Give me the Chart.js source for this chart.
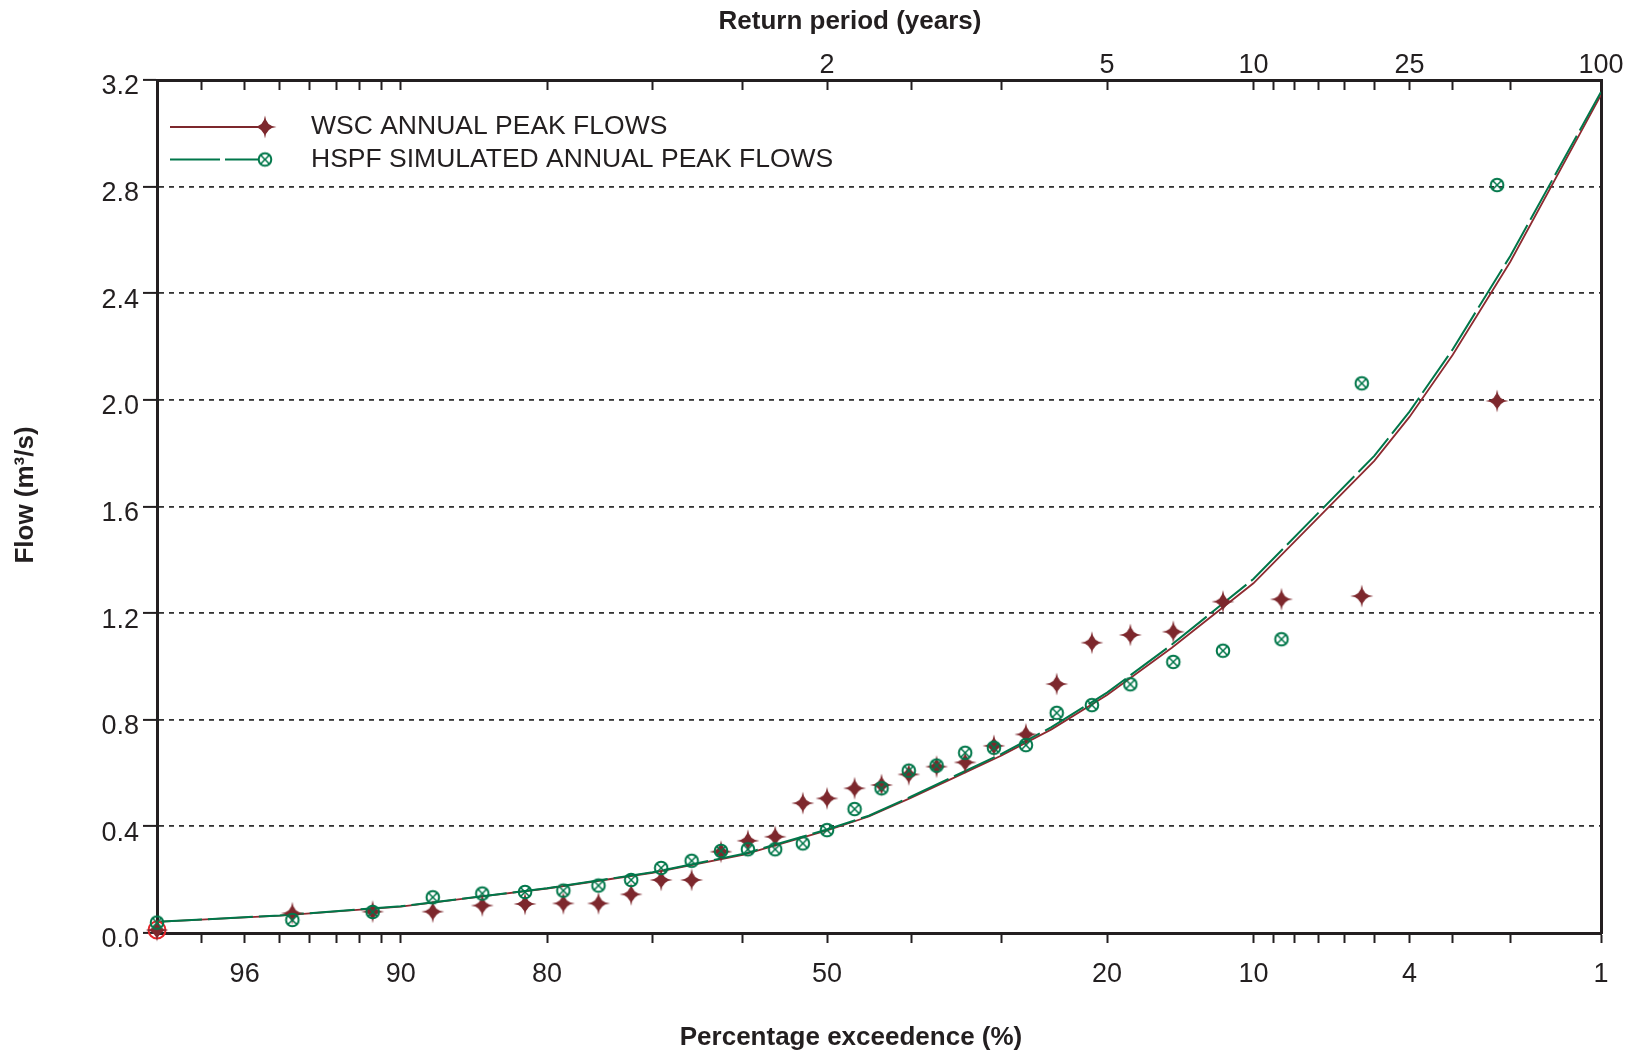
<!DOCTYPE html>
<html>
<head>
<meta charset="utf-8">
<title>Annual peak flow frequency</title>
<script src="https://cdn.jsdelivr.net/npm/chart.js@4.4.0/dist/chart.umd.min.js"></script>
<style>
  html, body { margin: 0; padding: 0; background: #fff; }
  #wrap { width: 1633px; height: 1056px; }
</style>
</head>
<body>
<div id="wrap"><canvas id="freqChart" width="1633" height="1056"></canvas></div>
<script>
// ---- data ----
// plotting position of each ranked annual peak, percentage exceedence
const exceedPct = [97.8, 94.6, 91.4, 88.2, 85.0, 81.8, 78.6, 75.4, 72.2, 69.1, 65.8,
                   62.5, 59.4, 56.2, 52.9, 50.0, 46.7, 43.5, 40.3, 37.1, 33.9, 30.8,
                   27.5, 24.5, 21.3, 18.1, 14.9, 11.7, 8.6, 5.4, 2.2];
// WSC observed annual peaks (m3/s)
const wscFlow = [0.011, 0.074, 0.080, 0.080, 0.103, 0.109, 0.111, 0.111, 0.145, 0.199, 0.199,
                 0.305, 0.346, 0.361, 0.487, 0.505, 0.543, 0.555, 0.595, 0.624, 0.640, 0.702,
                 0.745, 0.934, 1.089, 1.118, 1.130, 1.243, 1.252, 1.264, 1.996];
// HSPF simulated annual peaks (m3/s)
const hspfFlow = [0.039, 0.049, 0.079, 0.134, 0.148, 0.154, 0.159, 0.178, 0.199, 0.244, 0.271,
                  0.308, 0.314, 0.314, 0.336, 0.386, 0.465, 0.543, 0.609, 0.628, 0.676, 0.695,
                  0.705, 0.826, 0.855, 0.933, 1.017, 1.059, 1.102, 2.062, 2.806];

// fitted frequency curves
const curvePct = [97.8, 95, 90, 85, 80, 70, 60, 50, 45, 40, 35, 30, 25, 20, 15, 10, 5, 4, 3, 2, 1];
const wscFit  = [0.042, 0.065, 0.099, 0.137, 0.167, 0.226, 0.293, 0.385, 0.437, 0.508, 0.585,
                 0.666, 0.764, 0.893, 1.070, 1.312, 1.771, 1.936, 2.169, 2.518, 3.144];
const hspfFit = [0.042, 0.066, 0.100, 0.138, 0.168, 0.228, 0.296, 0.388, 0.440, 0.512, 0.590,
                 0.672, 0.772, 0.902, 1.082, 1.328, 1.790, 1.956, 2.190, 2.540, 3.155];

// axes
const axisLeftPct = 97.8;
const axisRightPct = 1;
const exceedTicks = [97, 96, 95, 94, 93, 92, 91, 90, 80, 70, 60, 50, 40, 30, 20, 10, 9, 8, 7, 6, 5, 4, 3, 2, 1];
const exceedLabelled = [96, 90, 80, 50, 20, 10, 4, 1];
const returnTickPcts = [50, 20, 10, 4, 1];
const returnTickLabels = ['2', '5', '10', '25', '100'];
const flowTicks = [0, 0.4, 0.8, 1.2, 1.6, 2.0, 2.4, 2.8, 3.2];

const legendLabels = ['WSC ANNUAL PEAK FLOWS', 'HSPF SIMULATED ANNUAL PEAK FLOWS'];

// ---- look ----
const INK = '#231f20';
const RED = '#7d282d';
const GREEN = '#00774a';
const FONT = "'Liberation Sans', Arial, sans-serif";

// inverse of the standard normal CDF (Acklam), used to build the probability axis
function normInv(p) {
    const a = [-3.969683028665376e+01, 2.209460984245205e+02, -2.759285104469687e+02,
               1.383577518672690e+02, -3.066479806614716e+01, 2.506628277459239e+00];
    const b = [-5.447609879822406e+01, 1.615858368580409e+02, -1.556989798598866e+02,
               6.680131188771972e+01, -1.328068155288572e+01];
    const c = [-7.784894002430293e-03, -3.223964580411365e-01, -2.400758277161838e+00,
               -2.549732539343734e+00, 4.374664141464968e+00, 2.938163982698783e+00];
    const d = [7.784695709041462e-03, 3.224671290700398e-01, 2.445134137142996e+00,
               3.754408661907416e+00];
    const pl = 0.02425;
    let q, r;
    if (p < pl) {
        q = Math.sqrt(-2 * Math.log(p));
        return (((((c[0]*q + c[1])*q + c[2])*q + c[3])*q + c[4])*q + c[5]) /
               ((((d[0]*q + d[1])*q + d[2])*q + d[3])*q + 1);
    }
    if (p > 1 - pl) {
        q = Math.sqrt(-2 * Math.log(1 - p));
        return -(((((c[0]*q + c[1])*q + c[2])*q + c[3])*q + c[4])*q + c[5]) /
                ((((d[0]*q + d[1])*q + d[2])*q + d[3])*q + 1);
    }
    q = p - 0.5;
    r = q * q;
    return (((((a[0]*r + a[1])*r + a[2])*r + a[3])*r + a[4])*r + a[5]) * q /
           (((((b[0]*r + b[1])*r + b[2])*r + b[3])*r + b[4])*r + 1);
}

// percentage exceedence -> normal variate (rare floods to the right)
const zOf = pct => normInv(1 - pct / 100);

const toPoints = (pcts, vals) => pcts.map((p, i) => ({ x: zOf(p), y: vals[i] }));

// marker images
function makeStar(color) {
    const s = 26, m = s / 2, R = 11.5, bulge = 1.4;
    const cv = document.createElement('canvas');
    cv.width = cv.height = s;
    const g = cv.getContext('2d');
    g.fillStyle = color;
    g.beginPath();
    for (let k = 0; k < 4; k++) {
        const a = k * Math.PI / 2 - Math.PI / 2;
        const a1 = a + Math.PI / 2;
        const am = a + Math.PI / 4;
        if (k === 0) g.moveTo(m + R * Math.cos(a), m + R * Math.sin(a));
        g.quadraticCurveTo(m + bulge * Math.cos(am), m + bulge * Math.sin(am),
                           m + R * Math.cos(a1), m + R * Math.sin(a1));
    }
    g.closePath();
    g.fill();
    return cv;
}

function makeCircleX(color) {
    const s = 18, m = s / 2, rad = 6.3;
    const cv = document.createElement('canvas');
    cv.width = cv.height = s;
    const g = cv.getContext('2d');
    g.strokeStyle = color;
    g.lineWidth = 2;
    g.beginPath();
    g.arc(m, m, rad, 0, Math.PI * 2);
    g.stroke();
    const d = rad * 0.7071;
    g.lineWidth = 1.5;
    g.beginPath();
    g.moveTo(m - d, m - d); g.lineTo(m + d, m + d);
    g.moveTo(m + d, m - d); g.lineTo(m - d, m + d);
    g.stroke();
    return cv;
}

const starImg = makeStar(RED);
const circImg = makeCircleX(GREEN);

// legend drawn by hand: line sample + marker + text
const legendPlugin = {
    id: 'lineMarkerLegend',
    afterDraw(chart) {
        const g = chart.ctx;
        const rows = [
            { y: 127, color: RED, dash: [], img: starImg },
            { y: 159.5, color: GREEN, dash: [50, 5], img: circImg }
        ];
        g.save();
        rows.forEach((row, i) => {
            g.strokeStyle = row.color;
            g.lineWidth = 2;
            g.setLineDash(row.dash);
            g.beginPath();
            g.moveTo(170, row.y);
            g.lineTo(258, row.y);
            g.stroke();
            g.drawImage(row.img, 265 - row.img.width / 2, row.y - row.img.height / 2);
            g.fillStyle = INK;
            g.font = `26.5px ${FONT}`;
            g.textAlign = 'left';
            g.textBaseline = 'middle';
            g.fillText(legendLabels[i], 311, row.y);
        });
        g.restore();
    }
};

// axis titles sit off-centre in the original, so place them directly
const titlePlugin = {
    id: 'axisTitles',
    afterDraw(chart) {
        const g = chart.ctx;
        g.save();
        g.fillStyle = INK;
        g.font = `bold 26px ${FONT}`;
        g.textAlign = 'center';
        g.textBaseline = 'middle';
        g.fillText('Return period (years)', 850, 22);
        g.fillText('Percentage exceedence (%)', 851, 1038);
        g.translate(26, 495);
        g.rotate(-Math.PI / 2);
        g.fillText('Flow (m\u00b3/s)', 0, 0);
        g.restore();
    }
};

Chart.defaults.font.family = FONT;
Chart.defaults.color = INK;

const ctx = document.getElementById('freqChart').getContext('2d');
new Chart(ctx, {
    type: 'scatter',
    data: {
        datasets: [
            {
                label: 'HSPF SIMULATED ANNUAL PEAK FLOWS',
                data: toPoints(exceedPct, hspfFlow),
                pointStyle: circImg,
                pointRadius: 7,
                clip: false,
                order: 0
            },
            {
                label: 'WSC ANNUAL PEAK FLOWS',
                data: toPoints(exceedPct, wscFlow),
                pointStyle: starImg,
                pointRadius: 7,
                clip: false,
                order: 1
            },
            {
                // the lowest WSC peak is ringed in red in the original
                label: 'lowest peak',
                data: toPoints(exceedPct.slice(0, 1), wscFlow.slice(0, 1)),
                pointStyle: 'circle',
                pointRadius: 8.5,
                borderWidth: 2,
                borderColor: '#e3262b',
                backgroundColor: 'rgba(0,0,0,0)',
                clip: false,
                order: 2
            },
            {
                label: 'HSPF fit',
                data: toPoints(curvePct, hspfFit),
                showLine: true,
                borderColor: GREEN,
                borderWidth: 2,
                borderDash: [45, 6],
                pointRadius: 0,
                tension: 0,
                order: 3
            },
            {
                label: 'WSC fit',
                data: toPoints(curvePct, wscFit),
                showLine: true,
                borderColor: '#8e2a30',
                borderWidth: 1.8,
                pointRadius: 0,
                tension: 0,
                order: 4
            }
        ]
    },
    options: {
        responsive: false,
        animation: false,
        devicePixelRatio: 1,
        events: [],
        layout: { padding: 0 },
        plugins: {
            legend: { display: false },
            tooltip: { enabled: false },
            title: { display: false }
        },
        scales: {
            x: {
                type: 'linear',
                position: 'bottom',
                min: zOf(axisLeftPct),
                max: zOf(axisRightPct),
                afterBuildTicks: s => { s.ticks = exceedTicks.map(p => ({ value: zOf(p) })); },
                afterFit: s => { s.height = 123; },
                ticks: {
                    autoSkip: false,
                    maxRotation: 0,
                    padding: 15,
                    color: INK,
                    font: { size: 27, lineHeight: 1.2 },
                    callback: (v, i) => exceedLabelled.includes(exceedTicks[i]) ? String(exceedTicks[i]) : ''
                },
                grid: { drawOnChartArea: false, tickLength: 10, tickWidth: 2, tickColor: INK },
                border: { width: 3, color: INK }
            },
            xTop: {
                type: 'linear',
                position: 'top',
                min: zOf(axisLeftPct),
                max: zOf(axisRightPct),
                afterBuildTicks: s => { s.ticks = exceedTicks.map(p => ({ value: zOf(p) })); },
                afterFit: s => { s.height = 80; },
                ticks: {
                    autoSkip: false,
                    maxRotation: 0,
                    padding: 8,
                    color: INK,
                    font: { size: 27, lineHeight: 1.2 },
                    callback: (v, i) => {
                        const k = returnTickPcts.indexOf(exceedTicks[i]);
                        return k >= 0 ? returnTickLabels[k] : '';
                    }
                },
                // negative length turns the tick marks inward
                grid: { drawOnChartArea: false, tickLength: -10, tickWidth: 2, tickColor: INK },
                border: { width: 3, color: INK }
            },
            y: {
                type: 'linear',
                position: 'left',
                min: 0,
                max: 3.2,
                afterBuildTicks: s => { s.ticks = flowTicks.map(v => ({ value: v })); },
                afterFit: s => { s.width = 157; },
                ticks: {
                    padding: 4,
                    labelOffset: 7,
                    color: INK,
                    font: { size: 27 },
                    callback: v => v.toFixed(1)
                },
                grid: {
                    color: c => (c.index === 0 || c.index === flowTicks.length - 1) ? 'rgba(0,0,0,0)' : '#333333',
                    lineWidth: 1.8,
                    tickLength: 14,
                    tickWidth: 2,
                    tickColor: INK
                },
                border: { width: 3, color: INK, dash: [5, 5] }
            },
            yRight: {
                type: 'linear',
                position: 'right',
                min: 0,
                max: 3.2,
                afterFit: s => { s.width = 32; },
                ticks: { display: false },
                grid: { drawOnChartArea: false, drawTicks: false },
                border: { width: 3, color: INK }
            }
        }
    },
    plugins: [legendPlugin, titlePlugin]
});
</script>
</body>
</html>
